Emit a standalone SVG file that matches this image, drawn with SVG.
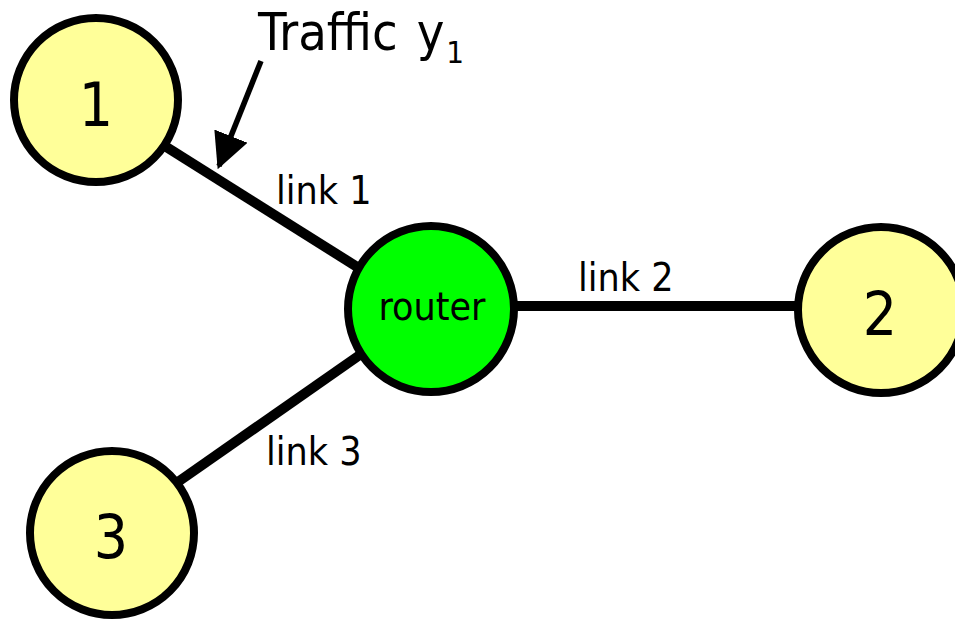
<svg xmlns="http://www.w3.org/2000/svg" width="955" height="620" viewBox="0 0 955 620">
  <style>
    .host { fill: #ffff99; stroke: #000; stroke-width: 8; }
    .router { fill: #00ff00; stroke: #000; stroke-width: 8; }
    .link { stroke: #000; stroke-width: 10; fill: none; }
    text { font-family: "DejaVu Sans Condensed", "DejaVu Sans", sans-serif; font-stretch: condensed; fill: #000; }
    .num { font-size: 60px; text-anchor: middle; }
    .lbl { font-size: 39px; }
    .title { font-size: 52px; }
    .sub { font-size: 31px; }
  </style>
  <defs>
    <marker id="arrowhead" viewBox="0 0 10 10" refX="9" refY="5" markerWidth="6.5" markerHeight="6.5" markerUnits="strokeWidth" orient="auto">
      <path d="M0,0 L10,5 L0,10 z" fill="#000"/>
    </marker>
  </defs>

  <!-- links between hosts and router -->
  <g id="connectors">
    <line class="link" x1="160" y1="143" x2="362" y2="270"/>
    <line class="link" x1="515" y1="306" x2="798" y2="306"/>
    <line class="link" x1="175" y1="484" x2="364" y2="352"/>
    <line x1="261" y1="61" x2="219" y2="166" stroke="#000" stroke-width="5.5" marker-end="url(#arrowhead)"/>
  </g>

  <g id="node-1">
    <circle class="host" cx="96" cy="100" r="82"/>
    <text class="num" x="96" y="126">1</text>
  </g>
  <g id="node-router">
    <circle class="router" cx="431" cy="309" r="83"/>
    <text class="lbl" x="432" y="320" text-anchor="middle">router</text>
  </g>
  <g id="node-2">
    <circle class="host" cx="881" cy="310" r="83"/>
    <text class="num" x="880" y="335">2</text>
  </g>
  <g id="node-3">
    <circle class="host" cx="112" cy="533" r="82"/>
    <text class="num" x="111" y="558">3</text>
  </g>

  <g id="labels">
    <text class="title" x="258" y="50" word-spacing="4">Traffic y<tspan class="sub" dx="2" dy="13">1</tspan></text>
    <text class="lbl" x="276" y="204">link 1</text>
    <text class="lbl" x="578" y="291">link 2</text>
    <text class="lbl" x="266" y="465">link 3</text>
  </g>
</svg>
